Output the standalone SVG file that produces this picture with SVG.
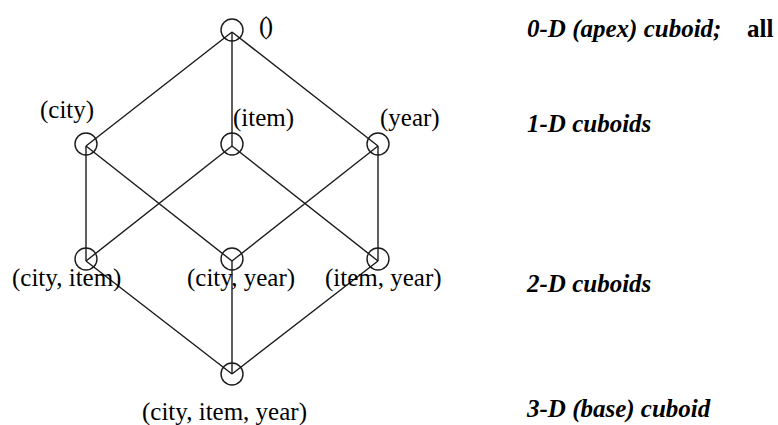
<svg xmlns="http://www.w3.org/2000/svg" width="778" height="425" viewBox="0 0 778 425">
<style>
.e{stroke:#1a1a1a;stroke-width:1.4;fill:none}
.n{stroke:#1a1a1a;stroke-width:1.4;fill:none}
.l{font-family:"Liberation Serif",serif;font-size:25px;fill:#000}
.r{font-family:"Liberation Serif",serif;font-size:25px;font-weight:bold;font-style:italic;fill:#000}
</style>
<rect width="778" height="425" fill="#fff"/>
<g id="connectors">
<line class="e" x1="232" y1="32" x2="86" y2="146"/>
<line class="e" x1="232" y1="32" x2="232" y2="146"/>
<line class="e" x1="232" y1="32" x2="378" y2="146"/>
<line class="e" x1="86" y1="146" x2="86" y2="261"/>
<line class="e" x1="86" y1="146" x2="232" y2="261"/>
<line class="e" x1="232" y1="146" x2="86" y2="261"/>
<line class="e" x1="232" y1="146" x2="378" y2="261"/>
<line class="e" x1="378" y1="146" x2="232" y2="261"/>
<line class="e" x1="378" y1="146" x2="378" y2="261"/>
<line class="e" x1="86" y1="261" x2="232" y2="374"/>
<line class="e" x1="232" y1="261" x2="232" y2="374"/>
<line class="e" x1="378" y1="261" x2="232" y2="374"/>
</g>
<g id="apex"><circle class="n" cx="232" cy="30" r="11"/><text class="l" x="259" y="34" letter-spacing="-2.5">()</text></g>
<g id="city"><circle class="n" cx="86" cy="144" r="11"/><text class="l" x="40" y="118">(city)</text></g>
<g id="item"><circle class="n" cx="232" cy="144" r="11"/><text class="l" x="233" y="126">(item)</text></g>
<g id="year"><circle class="n" cx="378" cy="144" r="11"/><text class="l" x="380" y="126">(year)</text></g>
<g id="city-item"><circle class="n" cx="86" cy="259" r="11"/><text class="l" x="12" y="286">(city, item)</text></g>
<g id="city-year"><circle class="n" cx="232" cy="259" r="11"/><text class="l" x="187" y="286">(city, year)</text></g>
<g id="item-year"><circle class="n" cx="378" cy="259" r="11"/><text class="l" x="325" y="286">(item, year)</text></g>
<g id="base"><circle class="n" cx="232" cy="374" r="11"/><text class="l" x="142" y="420">(city, item, year)</text></g>
<g id="levels">
<text class="r" x="527" y="37">0-D (apex) cuboid;</text>
<text x="747" y="37" style="font-family:'Liberation Serif',serif;font-size:25px;font-weight:bold;fill:#000">all</text>
<text class="r" x="527" y="132">1-D cuboids</text>
<text class="r" x="527" y="292">2-D cuboids</text>
<text class="r" x="527" y="417">3-D (base) cuboid</text>
</g>
</svg>
